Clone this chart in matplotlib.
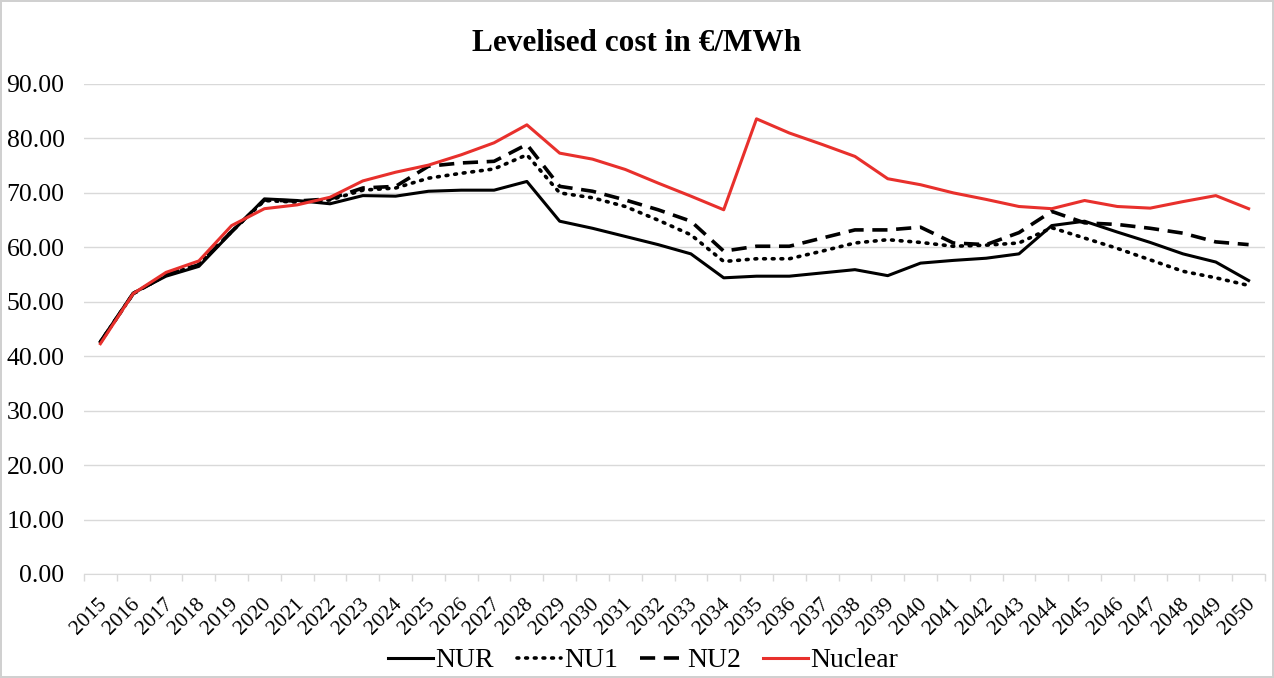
import numpy as np
import matplotlib.pyplot as plt
import matplotlib.transforms as mtransforms

# data
years = list(range(2015, 2051))
nur = [42.7, 51.6, 54.7, 56.5, 62.8, 68.9, 68.6, 68.0, 69.5, 69.4,
       70.3, 70.5, 70.5, 72.1, 64.8, 63.5, 62.0, 60.5, 58.8, 54.4,
       54.7, 54.7, 55.3, 55.9, 54.8, 57.1, 57.6, 58.0, 58.8, 64.0,
       64.8, 62.8, 60.9, 58.8, 57.3, 53.9]
nu1 = [42.6, 51.5, 54.9, 56.8, 62.9, 68.6, 68.3, 68.7, 70.5, 70.9,
       72.7, 73.6, 74.4, 77.0, 70.0, 69.1, 67.5, 65.0, 62.3, 57.4,
       57.9, 57.9, 59.3, 60.8, 61.4, 60.9, 60.2, 60.4, 60.8, 63.6,
       61.7, 59.8, 57.7, 55.6, 54.4, 53.0]
nu2 = [42.6, 51.5, 54.9, 56.8, 62.9, 68.7, 68.5, 68.9, 70.9, 71.2,
       74.9, 75.5, 75.8, 78.9, 71.2, 70.3, 68.7, 66.9, 64.8, 59.3,
       60.2, 60.2, 61.7, 63.2, 63.2, 63.7, 60.8, 60.5, 62.7, 66.6,
       64.5, 64.2, 63.5, 62.6, 61.0, 60.5]
nuclear = [42.3, 51.5, 55.4, 57.5, 64.0, 67.1, 67.8, 69.2, 72.2, 73.8,
           75.1, 77.0, 79.2, 82.5, 77.3, 76.2, 74.3, 71.8, 69.4, 66.9,
           83.6, 81.0, 78.9, 76.7, 72.6, 71.5, 70.0, 68.8, 67.5, 67.1,
           68.6, 67.5, 67.2, 68.4, 69.5, 67.1]

plt.rcParams['font.family'] = ['Liberation Serif', 'DejaVu Serif']

fig = plt.figure(figsize=(12.74, 6.78), dpi=100)
fig.patch.set_edgecolor('#d0d0d0')
fig.patch.set_linewidth(1.5)
ax = fig.add_axes([84 / 1274, (678 - 574) / 678, (1265 - 84) / 1274, (574 - 84) / 678])

x = np.arange(len(years))
lw = 2.2
ax.plot(x, nur, color='black', lw=lw, label='NUR')
ax.plot(x, nu1, color='black', lw=lw + 0.4, linestyle=(0, (0.5, 1.9)),
        dash_capstyle='round', label='NU1')
ax.plot(x, nu2, color='black', lw=lw + 0.4, linestyle=(0, (4.2, 2.4)), label='NU2')
ax.plot(x, nuclear, color='#e8302c', lw=lw, label='Nuclear')

ax.set_ylim(0, 90)
ax.set_xlim(-0.5, len(years) - 0.5)
ax.set_yticks(np.arange(0, 91, 10))
ax.set_yticklabels(['%.2f' % v for v in np.arange(0, 91, 10)], fontsize=18.5)
ax.tick_params(axis='y', length=0, pad=14)
ax.grid(axis='y', color='#d9d9d9', lw=1)
ax.set_axisbelow(True)

ax.set_xticks(x)
ax.set_xticklabels([str(y) for y in years], rotation=45, ha='right', va='top',
                   rotation_mode='anchor', fontsize=15.5)
ax.tick_params(axis='x', length=0, pad=10)
# move the rotated year labels down/left like the original
shift = mtransforms.ScaledTranslation(-3 / 100, -7 / 100, fig.dpi_scale_trans)
for lab in ax.get_xticklabels():
    lab.set_transform(lab.get_transform() + shift)
ax.set_xticks(np.arange(-0.5, len(years), 1), minor=True)
ax.tick_params(axis='x', which='minor', length=5, color='#d9d9d9', width=1)
for s in ['top', 'right', 'left']:
    ax.spines[s].set_visible(False)
ax.spines['bottom'].set_color('#d9d9d9')

fig.suptitle('Levelised cost in €/MWh', fontsize=22.5, fontweight='bold', y=0.957)

fig.legend(loc='lower center', bbox_to_anchor=(0.505, -0.03), ncol=4, frameon=False,
           fontsize=20, handlelength=1.6, columnspacing=0.8, handletextpad=0.1)

fig.savefig('out.png', dpi=100)
